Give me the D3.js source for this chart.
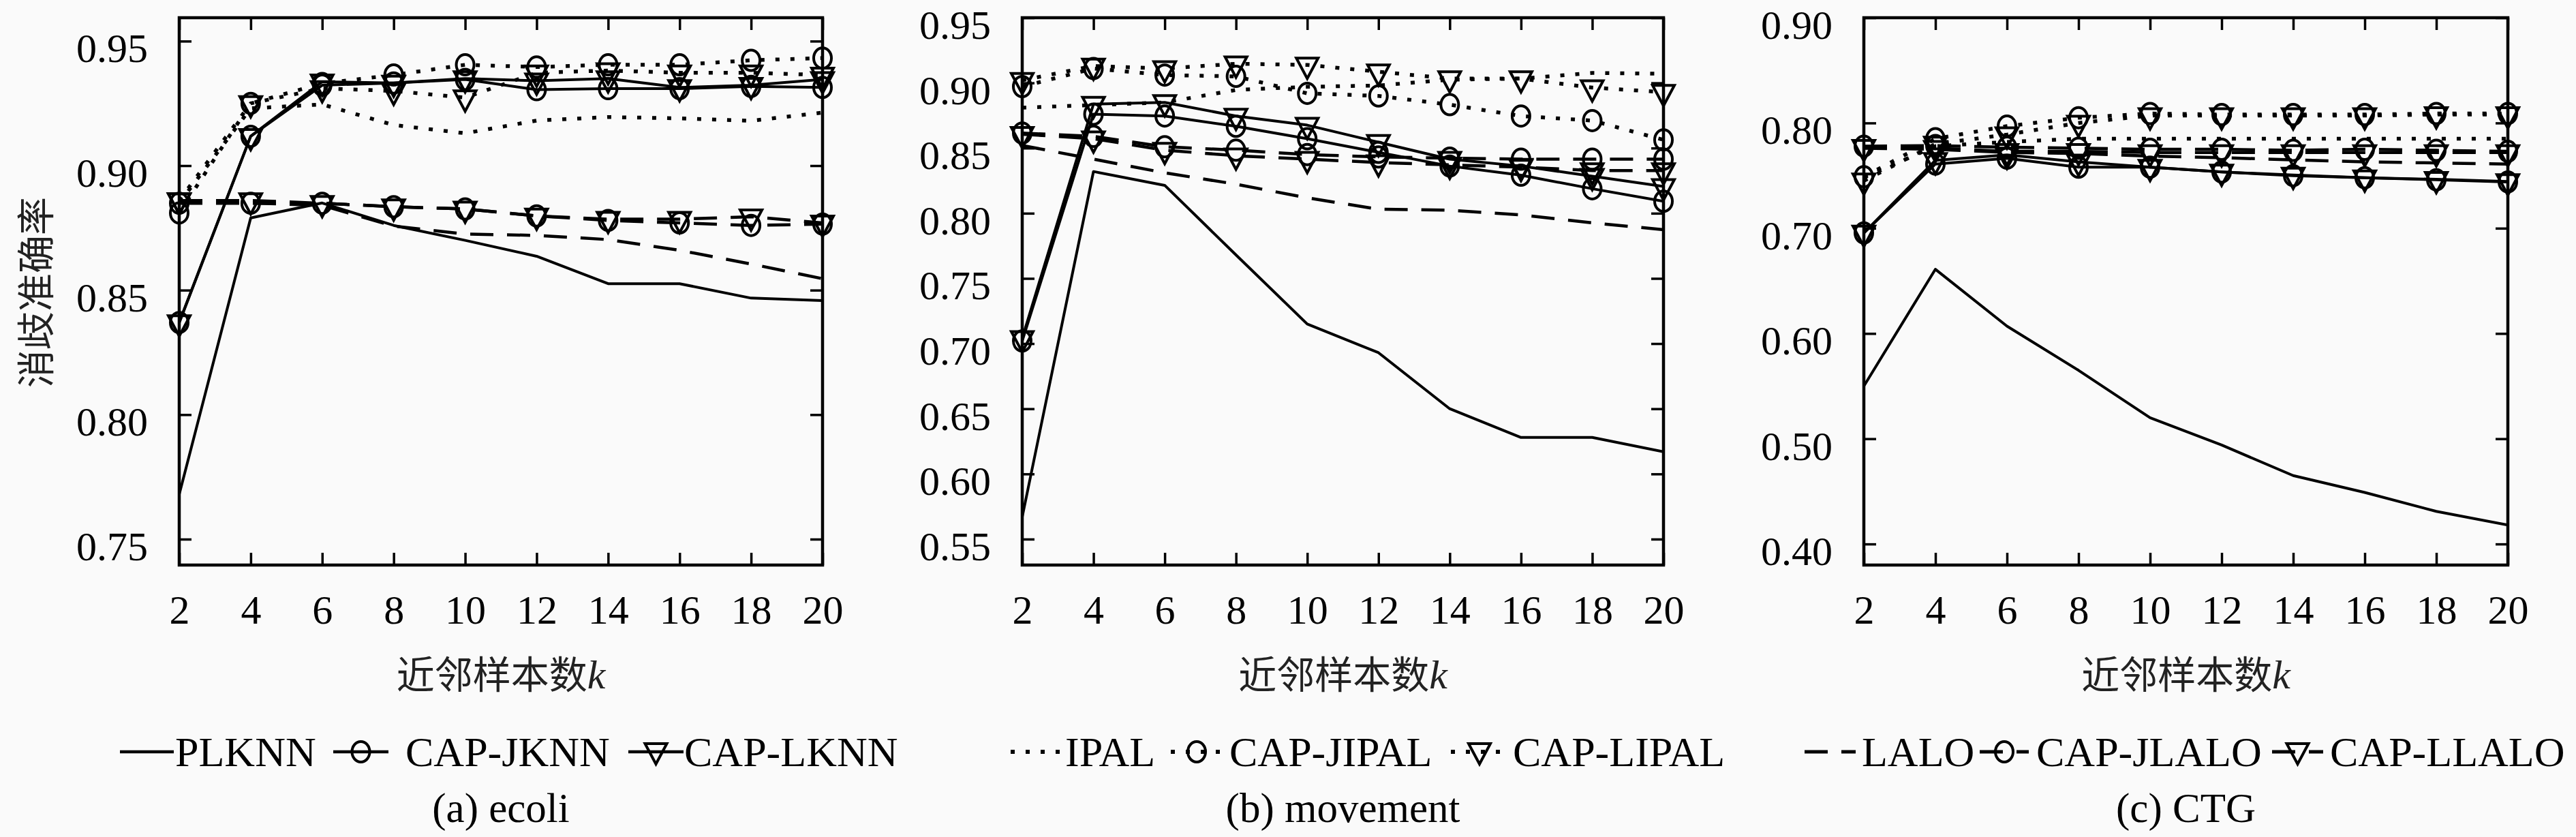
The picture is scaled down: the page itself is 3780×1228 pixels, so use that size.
<!DOCTYPE html>
<html>
<head>
<meta charset="utf-8">
<script src="https://cdn.jsdelivr.net/npm/d3@7"></script>
<style>
  html, body { margin: 0; padding: 0; background: #fafafa; }
  svg { display: block; }
</style>
</head>
<body>
<svg id="chart" width="3780" height="1228"></svg>
<script>
// ---------------- DATA ----------------
const kValues = [2, 4, 6, 8, 10, 12, 14, 16, 18, 20];
const seriesNames = ["PLKNN", "CAP-JKNN", "CAP-LKNN", "IPAL", "CAP-JIPAL", "CAP-LIPAL", "LALO", "CAP-JLALO", "CAP-LLALO"];
const panelTitles = ["(a) ecoli", "(b) movement", "(c) CTG"];
const xTitle = "近邻样本数";
const yTitle = "消歧准确率";

// values in the order of seriesNames
const ecoliValues = [
  [0.768, 0.879, 0.885, 0.876, 0.870, 0.8636, 0.8526, 0.8526, 0.8468, 0.8458],
  [0.837, 0.9118, 0.9323, 0.9332, 0.9346, 0.9305, 0.9309, 0.9309, 0.9318, 0.9314],
  [0.837, 0.9118, 0.9337, 0.9332, 0.935, 0.9341, 0.935, 0.9314, 0.9323, 0.9346],
  [0.885, 0.923, 0.9246, 0.9163, 0.913, 0.9181, 0.9195, 0.919, 0.918, 0.9213],
  [0.881, 0.925, 0.933, 0.9364, 0.9405, 0.9396, 0.9405, 0.9405, 0.9423, 0.9432],
  [0.886, 0.925, 0.931, 0.930, 0.9273, 0.9373, 0.9382, 0.9373, 0.9373, 0.9364],
  [0.885, 0.885, 0.884, 0.8757, 0.8725, 0.872, 0.8703, 0.866, 0.8605, 0.8546],
  [0.8849, 0.8849, 0.8849, 0.8835, 0.8826, 0.8798, 0.878, 0.877, 0.876, 0.8765],
  [0.886, 0.886, 0.8849, 0.8835, 0.8826, 0.8798, 0.8785, 0.8785, 0.8795, 0.877]
];
const movementValues = [
  [0.567, 0.832, 0.8214, 0.768, 0.715, 0.693, 0.650, 0.628, 0.628, 0.617],
  [0.702, 0.876, 0.8746, 0.8667, 0.8572, 0.8467, 0.8362, 0.8292, 0.8188, 0.8092],
  [0.704, 0.8837, 0.885, 0.8746, 0.8676, 0.8545, 0.8415, 0.8362, 0.8284, 0.8206],
  [0.881, 0.883, 0.885, 0.8946, 0.897, 0.898, 0.9025, 0.9033, 0.9077, 0.907],
  [0.8972, 0.911, 0.906, 0.905, 0.892, 0.890, 0.8833, 0.8746, 0.8711, 0.8563],
  [0.902, 0.913, 0.911, 0.9147, 0.9138, 0.9086, 0.9033, 0.9033, 0.8964, 0.8929],
  [0.852, 0.8415, 0.831, 0.8223, 0.8118, 0.8031, 0.8023, 0.7987, 0.7926, 0.7874],
  [0.8615, 0.859, 0.851, 0.8484, 0.845, 0.8432, 0.8423, 0.8415, 0.8415, 0.8415],
  [0.8606, 0.8572, 0.8484, 0.8441, 0.8415, 0.8389, 0.8371, 0.8354, 0.8328, 0.8328]
];
const ctgValues = [
  [0.550, 0.661, 0.607, 0.565, 0.520, 0.494, 0.465, 0.449, 0.431, 0.418],
  [0.6955, 0.761, 0.7665, 0.758, 0.758, 0.7535, 0.750, 0.748, 0.746, 0.744],
  [0.6955, 0.7645, 0.7697, 0.763, 0.758, 0.7535, 0.7505, 0.748, 0.7465, 0.7445],
  [0.748, 0.778, 0.782, 0.785, 0.785, 0.785, 0.785, 0.785, 0.785, 0.785],
  [0.749, 0.785, 0.797, 0.805, 0.809, 0.808, 0.808, 0.808, 0.809, 0.809],
  [0.745, 0.780, 0.789, 0.800, 0.807, 0.807, 0.807, 0.807, 0.808, 0.808],
  [0.776, 0.775, 0.772, 0.771, 0.7685, 0.767, 0.765, 0.763, 0.762, 0.761],
  [0.778, 0.7785, 0.777, 0.776, 0.775, 0.775, 0.774, 0.775, 0.774, 0.773],
  [0.777, 0.776, 0.773, 0.773, 0.772, 0.772, 0.772, 0.772, 0.772, 0.772]
];
const ecoliTicks = [0.75, 0.80, 0.85, 0.90, 0.95];
const movementTicks = [0.55, 0.60, 0.65, 0.70, 0.75, 0.80, 0.85, 0.90, 0.95];
const ctgTicks = [0.40, 0.50, 0.60, 0.70, 0.80, 0.90];
const ecoliDomain = [0.7396, 0.9594];
const movementDomain = [0.5301, 0.95];
const ctgDomain = [0.38, 0.90];
// legend groups: indices into seriesNames shown under each panel
const legendGroups = [[0, 1, 2], [3, 4, 5], [6, 7, 8]];

// ---------------- LAYOUT / STYLE ----------------
const serif = "'Liberation Serif', 'DejaVu Serif', serif";
const cjk = "'Noto Sans CJK SC', 'Noto Sans', sans-serif";
const panels = [
  { values: ecoliValues, ticks: ecoliTicks, domain: ecoliDomain, left: 263, right: 1207,
    legend: [[176, 255, 257], [489, 570, 595], [922, 1003, 1004]] },
  { values: movementValues, ticks: movementTicks, domain: movementDomain, left: 1500, right: 2441,
    legend: [[1483, 1555, 1563], [1718, 1794, 1804], [2129, 2213, 2220]] },
  { values: ctgValues, ticks: ctgTicks, domain: ctgDomain, left: 2735, right: 3680,
    legend: [[2648, 2723, 2732], [2905, 2977, 2988], [3334, 3409, 3419]] }
];
const plotTop = 26, plotBottom = 829;

function lineStyle(name) {
  if (name.endsWith("IPAL")) return { dash: "6,16", width: 5.5 };
  if (name.endsWith("LALO")) return { dash: "34,20", width: 4.5 };
  return { dash: null, width: 4 };
}
function markerType(name) {
  if (name.startsWith("CAP-J")) return "circle";
  if (name.startsWith("CAP-L")) return "triangle";
  return null;
}
function drawMarker(g, type, x, y) {
  if (type === "circle") {
    g.append("ellipse").attr("cx", x).attr("cy", y).attr("rx", 13).attr("ry", 15)
      .attr("fill", "none").attr("stroke", "#000").attr("stroke-width", 4);
  } else if (type === "triangle") {
    g.append("path")
      .attr("d", `M${x - 16},${y - 10}L${x + 16},${y - 10}L${x},${y + 20}Z`)
      .attr("fill", "none").attr("stroke", "#000").attr("stroke-width", 4)
      .attr("stroke-linejoin", "miter");
  }
}

const svg = d3.select("#chart");
svg.append("rect").attr("width", 3780).attr("height", 1228).attr("fill", "#fafafa");

panels.forEach((p, pi) => {
  const x = d3.scaleLinear().domain([2, 20]).range([p.left, p.right]);
  const y = d3.scaleLinear().domain(p.domain).range([plotBottom, plotTop]);
  const g = svg.append("g");

  // axes (inward ticks on all four sides)
  const tickLen = 18;
  const ax = g.append("g").attr("transform", `translate(0,${plotBottom})`)
    .call(d3.axisBottom(x).tickValues(kValues).tickFormat(d3.format("d"))
      .tickSizeInner(-tickLen).tickSizeOuter(0).tickPadding(0));
  ax.selectAll("text").attr("y", 86).attr("dy", 0)
    .attr("font-family", serif).attr("font-size", 60).attr("fill", "#000");
  g.append("g").attr("transform", `translate(0,${plotTop})`)
    .call(d3.axisTop(x).tickValues(kValues).tickFormat("").tickSizeInner(-tickLen).tickSizeOuter(0));
  const ay = g.append("g").attr("transform", `translate(${p.left},0)`)
    .call(d3.axisLeft(y).tickValues(p.ticks).tickFormat(d3.format(".2f"))
      .tickSizeInner(-tickLen).tickSizeOuter(0).tickPadding(46));
  ay.selectAll("text").attr("y", 10).attr("dy", "0.34em")
    .attr("font-family", serif).attr("font-size", 60).attr("fill", "#000");
  g.append("g").attr("transform", `translate(${p.right},0)`)
    .call(d3.axisRight(y).tickValues(p.ticks).tickFormat("").tickSizeInner(-tickLen).tickSizeOuter(0));
  g.selectAll(".domain").remove();
  g.selectAll(".tick line").attr("stroke", "#000").attr("stroke-width", 3.5);

  // series
  const clipId = "clip" + pi;
  svg.append("clipPath").attr("id", clipId).append("rect")
    .attr("x", p.left).attr("y", plotTop - 20).attr("width", p.right - p.left).attr("height", plotBottom - plotTop + 20);
  const plot = g.append("g");
  const line = d3.line().x((d, i) => x(kValues[i])).y(d => y(d));
  seriesNames.forEach((name, si) => {
    const st = lineStyle(name);
    const vals = p.values[si];
    plot.append("path").attr("d", line(vals))
      .attr("clip-path", `url(#${clipId})`)
      .attr("fill", "none").attr("stroke", "#000").attr("stroke-width", st.width)
      .attr("stroke-dasharray", st.dash).attr("stroke-linejoin", "round");
    const mt = markerType(name);
    if (mt) vals.forEach((v, i) => drawMarker(plot, mt, x(kValues[i]), y(v)));
  });

  // frame
  g.append("rect").attr("x", p.left).attr("y", plotTop)
    .attr("width", p.right - p.left).attr("height", plotBottom - plotTop)
    .attr("fill", "none").attr("stroke", "#000").attr("stroke-width", 4.5);

  // x title
  const cx = (p.left + p.right) / 2;
  const xt = g.append("text").attr("x", cx).attr("y", 1010).attr("text-anchor", "middle")
    .attr("font-family", cjk).attr("font-size", 56).attr("fill", "#222");
  xt.append("tspan").text(xTitle);
  xt.append("tspan").attr("font-family", serif).attr("font-style", "italic").attr("font-size", 60).text("k");

  // legend
  const ly = 1103;
  legendGroups[pi].forEach((si, li) => {
    const name = seriesNames[si];
    const [x0, x1, tx] = p.legend[li];
    const st = lineStyle(name);
    g.append("line").attr("x1", x0).attr("x2", x1).attr("y1", ly).attr("y2", ly)
      .attr("stroke", "#000").attr("stroke-width", st.width + 0.5)
      .attr("stroke-dasharray", st.dash);
    const mt = markerType(name);
    if (mt) drawMarker(g, mt, (x0 + x1) / 2, ly - (mt === "triangle" ? 2 : 0));
    g.append("text").attr("x", tx).attr("y", ly + 21)
      .attr("font-family", serif).attr("font-size", 62).attr("fill", "#000").text(name);
  });

  // caption
  g.append("text").attr("x", cx).attr("y", 1206).attr("text-anchor", "middle")
    .attr("font-family", serif).attr("font-size", 61).attr("fill", "#000").text(panelTitles[pi]);
});

// y title (only on first panel)
svg.append("text").attr("transform", "translate(48,429) rotate(-90)")
  .attr("text-anchor", "middle").attr("dominant-baseline", "central")
  .attr("font-family", cjk).attr("font-size", 56).attr("fill", "#222").text(yTitle);
</script>
</body>
</html>
